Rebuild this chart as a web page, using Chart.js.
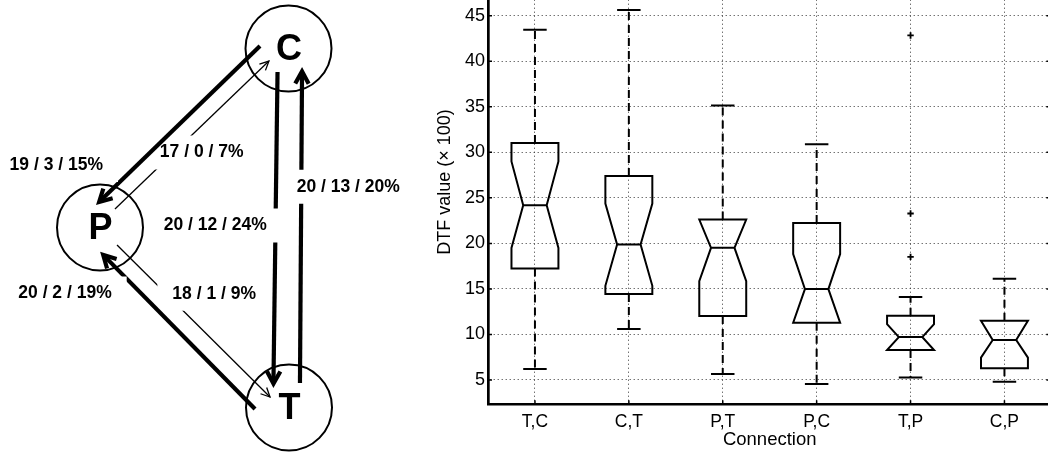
<!DOCTYPE html>
<html>
<head>
<meta charset="utf-8">
<script src="https://cdn.jsdelivr.net/npm/chart.js@4.4.1/dist/chart.umd.min.js"></script>
<style>
  html, body { margin: 0; padding: 0; background: #fff; overflow: hidden; }
  body { width: 1048px; height: 456px; position: relative; }
  #graph { position: absolute; left: 0; top: 0; }
  #dtf { position: absolute; left: 400px; top: -44px; }
</style>
</head>
<body>
<canvas id="graph" width="420" height="456"></canvas>
<canvas id="dtf" width="660" height="500"></canvas>
<script>
// connection graph: nodes and directed edges (count / count / percent)
const nodeNames = ['C', 'P', 'T'];
const nodeX = [288.5, 100, 289];
const nodeY = [48.5, 227.5, 407.5];

const edgeFrom = ['C', 'P', 'C', 'T', 'T', 'P'];
const edgeTo = ['P', 'C', 'T', 'C', 'P', 'T'];
const edgeA = [19, 17, 20, 20, 20, 18];
const edgeB = [3, 0, 12, 13, 2, 1];
const edgePct = [15, 7, 24, 20, 19, 9];

// DTF values per connection
const connections = ['T,C', 'C,T', 'P,T', 'P,C', 'T,P', 'C,P'];
const whiskerLow = [6.2, 10.6, 5.66, 4.56, 5.27, 4.81];
const q1 = [17.25, 14.43, 12.02, 11.29, 8.29, 6.28];
const notchLow = [19.5, 15.34, 15.86, 11.29, 8.29, 7.45];
const median = [24.19, 19.88, 19.51, 14.98, 9.71, 9.39];
const notchHigh = [29.0, 24.37, 22.62, 18.82, 11.14, 11.5];
const q3 = [31.02, 27.4, 22.62, 22.25, 12.05, 11.5];
const whiskerHigh = [43.45, 45.64, 35.15, 30.88, 14.1, 16.11];
const outlierConn = ['T,P', 'T,P', 'T,P'];
const outlierValue = [42.83, 23.28, 18.52];
const yTicks = [5, 10, 15, 20, 25, 30, 35, 40, 45];

// arrow placement: trim from source/target centre, sideways shift at each end
const edgeShape = [
  { s: 19, e: 12.6, o1: 21.4, o2: 19.1 },
  { s: 23.6, e: 22.8, o1: -3.1, o2: -4.4 },
  { s: 23.5, e: 19.5, o1: 11, o2: 15.5 },
  { s: 24.5, e: 18.5, o1: 11, o2: 13.5 },
  { s: 23.6, e: 16.9, o1: -24.5, o2: -17.7 },
  { s: 24.4, e: 21, o1: 0.95, o2: 5.5 }
];
const labelAt = [[56.3, 165], [201.7, 152.5], [215.3, 225.5], [348.3, 186.7], [65, 293.5], [214.2, 293.7]];

const FONT = '"Liberation Sans", Arial, Helvetica, sans-serif';
Chart.defaults.font.family = FONT;
Chart.defaults.color = '#000';

const graphDraw = {
  id: 'graphDraw',
  afterDatasetsDraw(chart) {
    const { ctx, scales: { x, y } } = chart;
    const px = v => x.getPixelForValue(v);
    const py = v => y.getPixelForValue(v);
    ctx.save();
    ctx.font = 'bold 17.5px ' + FONT;
    ctx.textAlign = 'center';
    ctx.textBaseline = 'middle';
    edgeFrom.forEach((from, i) => {
      const a = nodeNames.indexOf(from);
      const b = nodeNames.indexOf(edgeTo[i]);
      const dx = px(nodeX[b]) - px(nodeX[a]);
      const dy = py(nodeY[b]) - py(nodeY[a]);
      const len = Math.hypot(dx, dy);
      const ux = dx / len, uy = dy / len, nx = -uy, ny = ux;
      const g = edgeShape[i];
      const x0 = px(nodeX[a]) + ux * g.s + nx * g.o1;
      const y0 = py(nodeY[a]) + uy * g.s + ny * g.o1;
      const x1 = px(nodeX[b]) - ux * g.e + nx * g.o2;
      const y1 = py(nodeY[b]) - uy * g.e + ny * g.o2;
      const strong = edgePct[i] >= 10;
      const w = strong ? 4.2 : 1.3;
      const arm = strong ? 14 : 10;
      const ang = strong ? 0.5 : 0.45;
      const text = edgeA[i] + ' / ' + edgeB[i] + ' / ' + edgePct[i] + '%';
      const tw = ctx.measureText(text).width;
      const lx = px(labelAt[i][0]), ly = py(labelAt[i][1]);

      // apex of the head sits back so the mitre point lands on the tip
      const back = strong ? (w / 2) / Math.sin(ang) : 0;
      const hx = x1 - ux * back, hy = y1 - uy * back;
      const sx = Math.atan2(hy - y0, hx - x0);

      ctx.strokeStyle = '#000';
      ctx.lineWidth = w;
      ctx.lineCap = 'butt';
      ctx.lineJoin = 'miter';

      // shaft, cut where its own label sits
      ctx.save();
      ctx.beginPath();
      ctx.rect(0, 0, chart.width, chart.height);
      ctx.rect(lx - tw / 2 - 15, ly - 17, tw + 30, 34);
      ctx.clip('evenodd');
      ctx.beginPath();
      ctx.moveTo(x0, y0);
      ctx.lineTo(hx - ux * (strong ? 2 : 0), hy - uy * (strong ? 2 : 0));
      ctx.stroke();
      ctx.restore();

      // open head
      ctx.beginPath();
      ctx.moveTo(hx - arm * Math.cos(sx - ang), hy - arm * Math.sin(sx - ang));
      ctx.lineTo(hx, hy);
      ctx.lineTo(hx - arm * Math.cos(sx + ang), hy - arm * Math.sin(sx + ang));
      ctx.stroke();

      ctx.fillStyle = '#000';
      ctx.fillText(text, lx, ly);
    });

    ctx.font = 'bold 36px ' + FONT;
    nodeNames.forEach((n, i) => {
      ctx.fillText(n, px(nodeX[i]) + 0.5, py(nodeY[i]) + 2);
    });
    ctx.restore();
  }
};

new Chart(document.getElementById('graph'), {
  type: 'scatter',
  data: {
    datasets: [{
      data: nodeNames.map((n, i) => ({ x: nodeX[i], y: nodeY[i] })),
      pointRadius: 43,
      pointHoverRadius: 43,
      pointBorderWidth: 2,
      pointBorderColor: '#000',
      pointBackgroundColor: 'rgba(255,255,255,0)',
      clip: false
    }]
  },
  options: {
    responsive: false,
    animation: false,
    events: [],
    layout: { padding: 0, autoPadding: false },
    plugins: { legend: { display: false }, tooltip: { enabled: false } },
    scales: {
      x: { type: 'linear', min: 0, max: 420, display: false },
      y: { type: 'linear', min: 0, max: 456, reverse: true, display: false }
    }
  },
  plugins: [graphDraw]
});

// notched box plot
const boxHalf = 0.25, notchHalf = 0.125, capHalf = 0.125;

function seg(points, dash) {
  return {
    type: 'scatter',
    data: points.map(p => ({ x: p[0], y: p[1] })),
    showLine: true,
    borderColor: '#000',
    borderWidth: 2,
    borderDash: dash || [],
    borderJoinStyle: 'miter',
    pointRadius: 0,
    pointHoverRadius: 0,
    fill: false,
    tension: 0
  };
}

const boxSets = [];
connections.forEach((c, i) => {
  const xc = i + 1;
  const L = xc - boxHalf, R = xc + boxHalf;
  const nl = xc - notchHalf, nr = xc + notchHalf;
  boxSets.push(seg([[xc, q3[i]], [xc, whiskerHigh[i]]], [8, 5]));
  boxSets.push(seg([[xc, q1[i]], [xc, whiskerLow[i]]], [8, 5]));
  boxSets.push(seg([[xc - capHalf, whiskerHigh[i]], [xc + capHalf, whiskerHigh[i]]]));
  boxSets.push(seg([[xc - capHalf, whiskerLow[i]], [xc + capHalf, whiskerLow[i]]]));
  boxSets.push(seg([
    [nl, median[i]], [L, notchLow[i]], [L, q1[i]], [R, q1[i]], [R, notchLow[i]], [nr, median[i]],
    [nl, median[i]], [L, notchHigh[i]], [L, q3[i]], [R, q3[i]], [R, notchHigh[i]], [nr, median[i]]
  ]));
});

boxSets.push({
  type: 'scatter',
  data: outlierValue.map((v, i) => ({ x: connections.indexOf(outlierConn[i]) + 1, y: v })),
  pointStyle: 'cross',
  pointRadius: 3.2,
  pointBorderWidth: 1.8,
  borderColor: '#000',
  backgroundColor: '#000'
});

const innerTicks = {
  id: 'innerTicks',
  afterDraw(chart) {
    const { ctx, chartArea: a, scales: { x, y } } = chart;
    ctx.save();
    ctx.strokeStyle = '#000';
    ctx.lineWidth = 1.5;
    ctx.beginPath();
    y.ticks.forEach(t => {
      const p = y.getPixelForValue(t.value);
      ctx.moveTo(a.left, p); ctx.lineTo(a.left + 4, p);
      ctx.moveTo(a.right, p); ctx.lineTo(a.right - 5, p);
    });
    x.ticks.forEach(t => {
      const p = x.getPixelForValue(t.value);
      ctx.moveTo(p, a.bottom); ctx.lineTo(p, a.bottom - 4);
    });
    ctx.stroke();
    ctx.restore();
  }
};

new Chart(document.getElementById('dtf'), {
  type: 'scatter',
  data: { datasets: boxSets },
  options: {
    responsive: false,
    animation: false,
    events: [],
    layout: { padding: { top: 3.7, right: 8.6, left: 0, bottom: 0 }, autoPadding: false },
    plugins: { legend: { display: false }, tooltip: { enabled: false } },
    scales: {
      x: {
        type: 'linear',
        min: 0.5,
        max: 6.5,
        afterBuildTicks: s => { s.ticks = connections.map((c, i) => ({ value: i + 1 })); },
        afterFit: s => { s.height = 51.7; s.paddingLeft = 0; s.paddingRight = 0; },
        ticks: {
          callback: v => connections[v - 1],
          font: { size: 17.5 },
          color: '#000',
          padding: 7.2,
          maxRotation: 0,
          autoSkip: false
        },
        grid: { color: '#333', lineWidth: 1, drawTicks: false },
        border: { color: '#000', width: 2.5, dash: [1, 3] },
        title: {
          display: true,
          text: 'Connection',
          font: { size: 18.5 },
          color: '#000',
          padding: { top: 0, bottom: 5 }
        }
      },
      y: {
        type: 'linear',
        min: 2.33,
        max: 51.15,
        afterBuildTicks: s => { s.ticks = yTicks.map(v => ({ value: v })); },
        afterFit: s => { s.width = 88; s.paddingTop = 0; s.paddingBottom = 0; },
        ticks: { font: { size: 18 }, color: '#000', padding: 3 },
        grid: { color: '#333', lineWidth: 1, drawTicks: false },
        border: { color: '#000', width: 2.7, dash: [1, 3] },
        title: {
          display: true,
          text: 'DTF value (× 100)',
          font: { size: 18 },
          color: '#000',
          padding: { top: 34.2, bottom: 0 }
        }
      }
    }
  },
  plugins: [innerTicks]
});
</script>
</body>
</html>
